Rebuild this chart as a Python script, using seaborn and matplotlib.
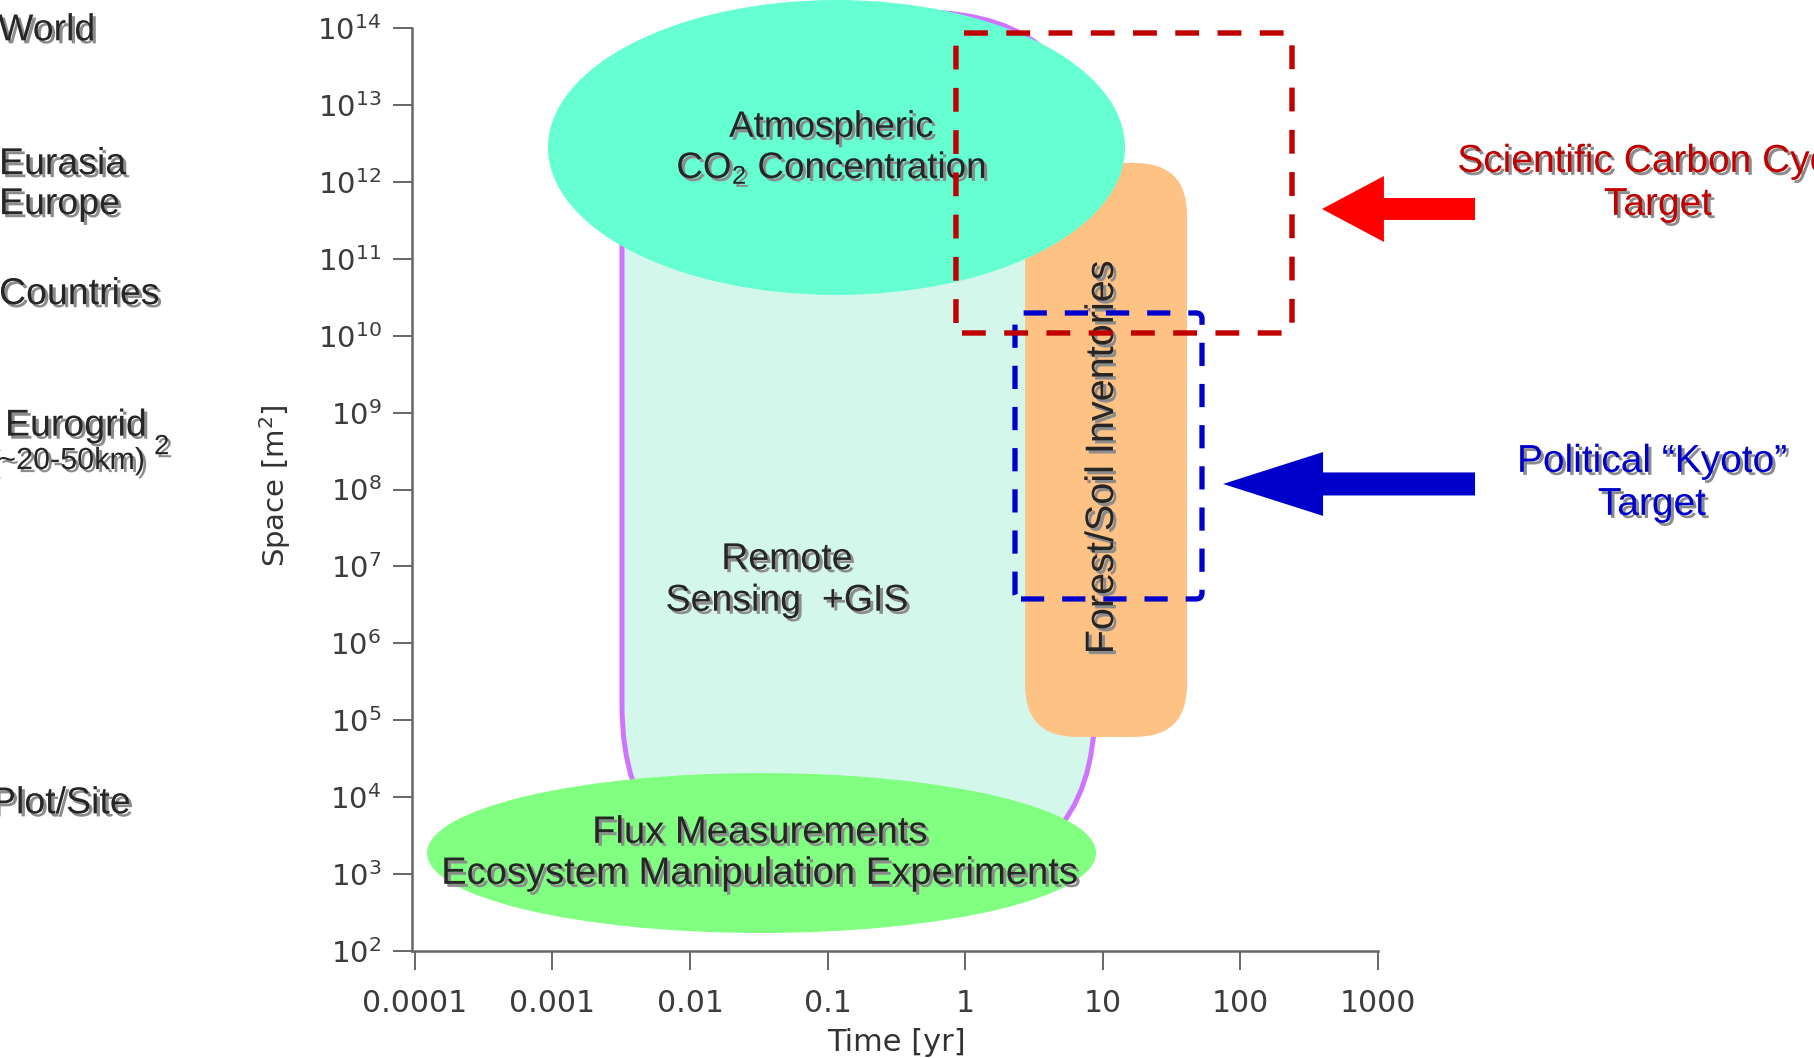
import numpy as np
import matplotlib
matplotlib.use("Agg")
import matplotlib.pyplot as plt
from matplotlib.patches import Ellipse, FancyBboxPatch
import matplotlib.patheffects as pe
import seaborn as sns

# ---------------- data (log10 units: time [yr], space [m^2]) ----------------
time_ticks = [0.0001, 0.001, 0.01, 0.1, 1, 10, 100, 1000]
time_tick_labels = ["0.0001", "0.001", "0.01", "0.1", "1", "10", "100", "1000"]
space_exponents = list(range(2, 15))

scale_names = ["World", "Eurasia", "Europe", "Countries", "Eurogrid", "Plot/Site"]
scale_log_area = [13.97, 12.23, 11.71, 10.54, 8.83, 3.92]
eurogrid_note = "(~20-50km)"
eurogrid_note_log_area = 8.37
eurogrid_note_exp_log_area = 8.55

# region extents: [min, max] of log10(time) and log10(space)
remote_time = [-2.494, 0.944]
remote_space = [2.92, 14.208]
atmos_time = [-3.032, 1.162]
atmos_space = [10.529, 14.364]
flux_time = [-3.911, 0.951]
flux_space = [2.234, 4.314]
forest_time = [0.435, 1.612]
forest_space = [4.783, 12.245]
sci_time = [-0.067, 2.375]
sci_space = [10.035, 13.935]
kyoto_time = [0.362, 1.721]
kyoto_space = [6.577, 10.295]

arrow_tail_time = 3.705
sci_arrow_tip = [2.593, 11.647]
kyoto_arrow_tip = [1.874, 8.072]

# label anchors (log10 time, log10 space)
atmos_label = [-0.975, 12.44]
remote_label = [-1.295, 6.824]
flux_label = [-1.491, 3.27]
forest_label = [0.994, 8.42]
sci_label = [5.035, 11.98]
kyoto_label = [4.991, 8.08]

# ---------------- style ----------------
sns.set_theme(style="ticks")
plt.rcParams["font.family"] = ["DejaVu Sans"]
plt.rcParams["mathtext.default"] = "regular"

W, H = 1814, 1058
fig = plt.figure(figsize=(W / 100, H / 100), dpi=100)
ax_left, ax_bottom, ax_w, ax_h = 412, 107, 966, 923
ax = fig.add_axes([ax_left / W, ax_bottom / H, ax_w / W, ax_h / H])
ax.set_xlim(-4.02, 3.0)
ax.set_ylim(2.0, 14.0)

px_x = ax_w / 7.02
px_y = ax_h / 12.0
asp = px_x / px_y

shadow = [pe.withSimplePatchShadow(offset=(2.2, -2.2), shadow_rgbFace="#8c8c8c", alpha=1.0)]
TXT = "Liberation Sans"


def rbox(tr, sr, r_px, **kw):
    r = r_px / px_x
    return FancyBboxPatch((tr[0], sr[0]), tr[1] - tr[0], sr[1] - sr[0],
                          boxstyle=f"round,pad=0,rounding_size={r}",
                          mutation_aspect=asp, clip_on=False, **kw)


def ell(tr, sr, **kw):
    return Ellipse(((tr[0] + tr[1]) / 2, (sr[0] + sr[1]) / 2),
                   tr[1] - tr[0], sr[1] - sr[0], clip_on=False, **kw)


ax.add_patch(rbox(remote_time, remote_space, 175, fc="#D4F7EC", ec="#CF74FF", lw=3.6, zorder=1))
ax.add_patch(rbox(forest_time, forest_space, 52, fc="#FFC285", ec="none", zorder=2))
ax.add_patch(ell(atmos_time, atmos_space, fc="#66FFD2", ec="none", zorder=3))
ax.add_patch(ell(flux_time, flux_space, fc="#80FF80", ec="none", zorder=3))

dash = (0, (4.4, 3.4))
ax.add_patch(rbox(kyoto_time, kyoto_space, 6, fill=False, ec="#0000CC", lw=3.8, ls=dash, zorder=6))
ax.add_patch(rbox(sci_time, sci_space, 6, fill=False, ec="#C00000", lw=3.9, ls=dash, zorder=7))

# arrows
ax.annotate("", xy=(sci_arrow_tip[0], sci_arrow_tip[1]), xytext=(arrow_tail_time, sci_arrow_tip[1]),
            arrowprops=dict(arrowstyle="simple,head_length=44.6,head_width=47.5,tail_width=15.8",
                            color="#FF0000", shrinkA=0, shrinkB=0, mutation_scale=1, lw=0),
            annotation_clip=False, zorder=8)
ax.annotate("", xy=(kyoto_arrow_tip[0], kyoto_arrow_tip[1]), xytext=(arrow_tail_time, kyoto_arrow_tip[1]),
            arrowprops=dict(arrowstyle="simple,head_length=72,head_width=46,tail_width=16.6",
                            color="#0000CC", shrinkA=0, shrinkB=0, mutation_scale=1, lw=0),
            annotation_clip=False, zorder=8)

# region labels
common = dict(family=TXT, ha="center", va="center", multialignment="center",
              path_effects=shadow, zorder=5, clip_on=False)
ax.text(*atmos_label, "Atmospheric\n$\\mathregular{CO_2}$ Concentration", fontsize=26.5, linespacing=1.15, **common)
ax.text(*remote_label, "Remote\nSensing  +GIS", fontsize=27, linespacing=1.2, **common)
ax.text(*flux_label, "Flux Measurements\nEcosystem Manipulation Experiments", fontsize=27.5, linespacing=1.18, **common)
ax.text(*forest_label, "Forest/Soil Inventories", fontsize=28.5, rotation=90, **common)
ax.text(*sci_label, "Scientific Carbon Cycle\nTarget", fontsize=28, color="#C00000", linespacing=1.25, **common)
ax.text(*kyoto_label, "Political \u201cKyoto\u201d\nTarget", fontsize=28, color="#0000CC", linespacing=1.25, **common)

# scale labels on the left
ytr = ax.get_yaxis_transform()
left_px = [-2, -1, -1, -1, 5, -9]
for name, val, lp in zip(scale_names, scale_log_area, left_px):
    ax.text((lp - ax_left) / ax_w, val, name, transform=ytr, family=TXT, fontsize=27,
            ha="left", va="center", path_effects=shadow, clip_on=False)
ax.text((-12 - ax_left) / ax_w, eurogrid_note_log_area, eurogrid_note, transform=ytr, family=TXT,
        fontsize=22, ha="left", va="center", path_effects=shadow, clip_on=False)
ax.text((154 - ax_left) / ax_w, eurogrid_note_exp_log_area, "2", transform=ytr, family=TXT,
        fontsize=20, ha="left", va="center", path_effects=shadow, clip_on=False)

# axes
ax.set_xticks(np.log10(time_ticks), labels=time_tick_labels)
ax.set_yticks(space_exponents, labels=[f"$10^{{{e}}}$" for e in space_exponents])
ax.tick_params(axis="both", direction="out", length=14, width=1.4, color="#666666",
               labelcolor="#3c3c3c")
ax.tick_params(axis="x", pad=13, labelsize=21.5)
ax.tick_params(axis="y", pad=8, labelsize=21)
sns.despine(ax=ax)
for sp in ["left", "bottom"]:
    ax.spines[sp].set_color("#666666")
    ax.spines[sp].set_linewidth(1.8)
ax.grid(False)

ax.set_xlabel("Time [yr]", fontsize=22, color="#333333")
ax.xaxis.set_label_coords(0.502, -0.083)
ax.set_ylabel("Space [m$^2$]", fontsize=21, color="#333333")
ax.yaxis.set_label_coords(-0.123, 0.504)

fig.savefig("out.png", dpi=100, facecolor="white")
